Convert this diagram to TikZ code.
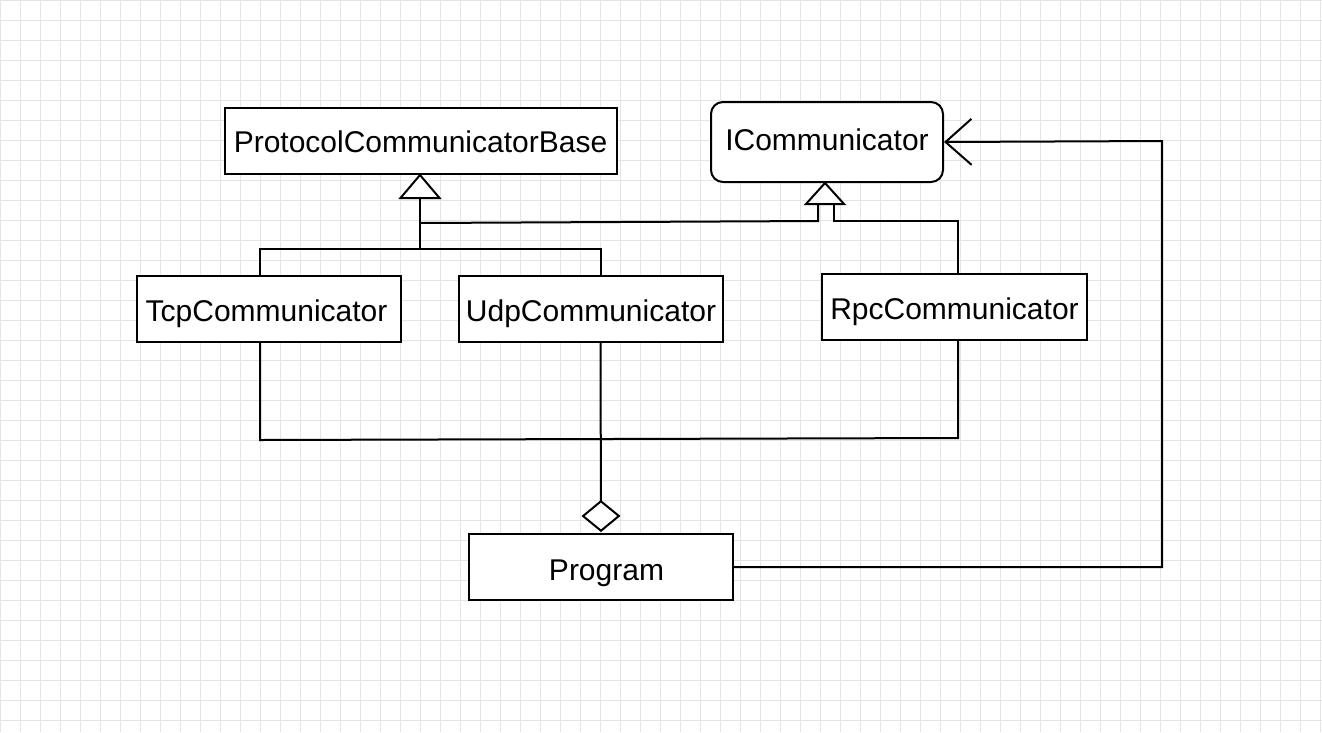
\documentclass[tikz,border=0pt]{standalone}
\usepackage{fontspec}
\setmainfont{Liberation Sans}
\usetikzlibrary{arrows.meta,calc}
\definecolor{gridgray}{HTML}{E4E4E4}
\tikzset{
  gridline/.style={draw=gridgray,line width=1pt},
  umlbox/.style={draw=black,line width=2pt,fill=white,inner sep=0pt,
    minimum height=66pt,font=\fontsize{30}{36}\selectfont,text height=30pt,text depth=4.6pt},
  conn/.style={draw=black,line width=2pt},
  inherit/.style={draw=black,line width=2pt,fill=white,line join=miter},
  aggr/.style={conn,-{Diamond[open,fill=white,length=32pt,width=39pt]}},
  assoc/.style={conn,-{Straight Barb[length=26pt,width=46pt]}},
}
\begin{document}
\begin{tikzpicture}[x=1pt,y=-1pt]
\useasboundingbox (0,0) rectangle (1322,732);
\fill[white] (0,0) rectangle (1322,732);
\draw[gridline,step=20pt] (0,0) grid (1322,732);

% nodes
\node[umlbox,minimum width=392pt,text depth=6.6pt] (pcb) at (420.5,141) {ProtocolCommunicatorBase};
\node[umlbox,minimum width=232pt,minimum height=80pt,rounded corners=12pt,text depth=14pt] (icomm) at (827,142) {ICommunicator};
\node[umlbox,minimum width=264pt] (tcp) at (269,309) {TcpCommunicator\hspace*{5pt}};
\node[umlbox,minimum width=264pt] (udp) at (591,309) {UdpCommunicator};
\node[umlbox,minimum width=265pt] (rpc) at (954.5,307) {RpcCommunicator};
\node[umlbox,minimum width=264pt,text depth=2.6pt] (prog) at (601,567) {\hspace*{11pt}Program};

% generalization to ProtocolCommunicatorBase
\coordinate (pcbtip) at ([xshift=-0.5]pcb.south);
\coordinate (pcbbase) at ($(pcbtip)+(0,23)$);
\coordinate (j1) at ($(pcbtip)+(0,74)$);
\coordinate (j2) at ($(pcbtip)+(0,48)$);
\draw[conn] ([xshift=-9]tcp.north) |- (j1) -| ([xshift=9.5]udp.north);
\draw[conn] (j1) -- (pcbbase);
\draw[inherit] (pcbtip) -- ++(-19.5,23) -- ++(39,0) -- cycle;

% generalization to ICommunicator
\coordinate (ictip) at ([xshift=-2]icomm.south);
\coordinate (icl) at ($(ictip)+(-7,21)$);
\coordinate (icr) at ($(ictip)+(9,21)$);
\draw[conn] (j2) -- ($(icl)+(0,17)$) -- (icl);
\draw[conn] ([xshift=3.5]rpc.north) |- ($(icr)+(0,17)$) -- (icr);
\draw[inherit] (ictip) -- ++(-19,21) -- ++(38,0) -- cycle;

% bottom bus
\draw[conn] ([xshift=-9]tcp.south) -- ++(0,97) -- ($([xshift=3.5]rpc.south)+(0,97)$) -- ([xshift=3.5]rpc.south);

% aggregation Udp -> Program
\draw[aggr] ([xshift=9.5]udp.south) -- ([yshift=1]prog.north);

% association Program -> ICommunicator
\coordinate (corner) at (1162,141);
\draw[assoc] (prog.east) -| (corner) -- (icomm.east);
\end{tikzpicture}
\end{document}
